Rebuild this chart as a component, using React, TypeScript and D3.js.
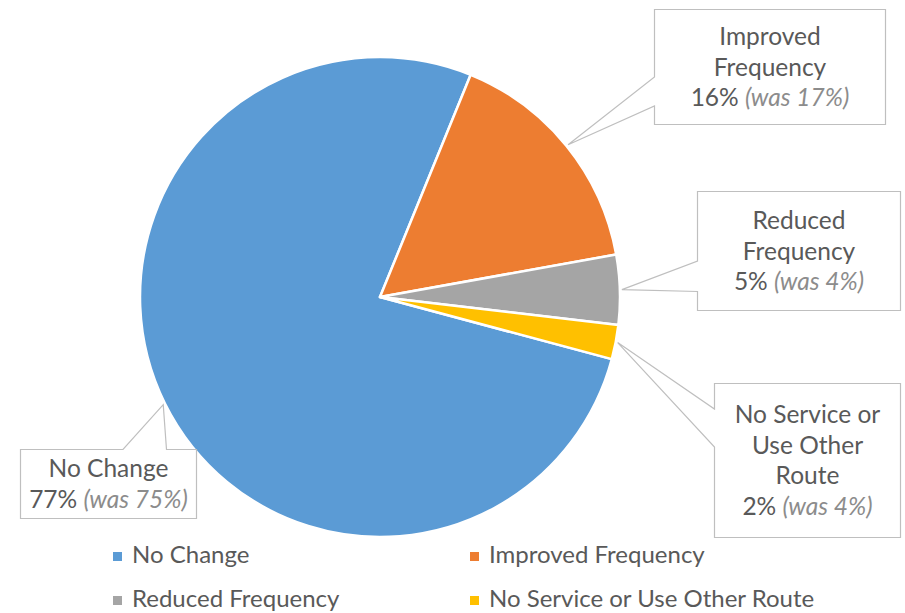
import React from 'react';
import * as d3 from 'd3';

const categories = [
  'No Change',
  'Improved Frequency',
  'Reduced Frequency',
  'No Service or Use Other Route',
];
const values = [77.0, 16.0, 4.7, 2.3];
const previous = [75, 17, 4, 4];
const labelLines = [
  ['No Change'],
  ['Improved', 'Frequency'],
  ['Reduced', 'Frequency'],
  ['No Service or', 'Use Other', 'Route'],
];
const colors = ['#5B9BD5', '#ED7D31', '#A5A5A5', '#FFC000'];

const W = 905;
const H = 613;
const cx = 380;
const cy = 297;
const radius = 240;
const firstSliceDeg = 105;
const font = 'Lato, Calibri, sans-serif';
const lineH = 30.5;

// callout boxes: rect + where the pointer leaves the box
type Box = { x: number; y: number; w: number; h: number; side: 'left' | 'top'; b1: number; b2: number };
const boxes: Box[] = [
  { x: 20.5, y: 449.5, w: 176, h: 69, side: 'top', b1: 123, b2: 166.5 },
  { x: 654.5, y: 9.5, w: 231, h: 115, side: 'left', b1: 77, b2: 106 },
  { x: 697.5, y: 191.5, w: 203, h: 119, side: 'left', b1: 261, b2: 291.5 },
  { x: 714.5, y: 383.5, w: 186, h: 154, side: 'left', b1: 409, b2: 447 },
];

const calloutPath = (b: Box, tip: [number, number]) => {
  const [tx, ty] = tip;
  if (b.side === 'top') {
    return `M${b.x},${b.y}H${b.b1}L${tx},${ty}L${b.b2},${b.y}H${b.x + b.w}V${b.y + b.h}H${b.x}Z`;
  }
  return `M${b.x},${b.y}H${b.x + b.w}V${b.y + b.h}H${b.x}V${b.b2}L${tx},${ty}L${b.x},${b.b1}Z`;
};

export default function App() {
  const start = (firstSliceDeg * Math.PI) / 180;
  const pie = d3
    .pie<number>()
    .sort(null)
    .value((d) => d)
    .startAngle(start)
    .endAngle(start + 2 * Math.PI);
  const arcs = pie(values);
  const arc = d3.arc<d3.PieArcDatum<number>>().innerRadius(0).outerRadius(radius);
  const tipArc = d3
    .arc<d3.PieArcDatum<number>>()
    .innerRadius(radius + 2)
    .outerRadius(radius + 2);

  const legendCols = [113, 470];
  const legendRows = [563, 607];

  return (
    <svg
      width={W}
      height={H}
      style={{ position: 'absolute', left: 0, top: 0, background: '#fff' }}
      fontFamily={font}
    >
      <g transform={`translate(${cx},${cy})`}>
        {arcs.map((a, i) => (
          <path key={i} d={arc(a) || ''} fill={colors[i]} stroke="#fff" strokeWidth={2.5} strokeLinejoin="round" />
        ))}
      </g>

      {arcs.map((a, i) => {
        const b = boxes[i];
        const [px, py] = tipArc.centroid(a);
        const tip: [number, number] = [px + cx, py + cy];
        const lines = [...labelLines[i]];
        const n = lines.length + 1;
        const midX = b.x + b.w / 2;
        const y0 = b.y + b.h / 2 - ((n - 1) / 2) * lineH + 8.5;
        return (
          <g key={i}>
            <path d={calloutPath(b, tip)} fill="#fff" stroke="#BFBFBF" strokeWidth={1.2} />
            <text fontSize={24.5} textAnchor="middle" fill="#595959">
              {lines.map((l, j) => (
                <tspan key={j} x={midX} y={y0 + j * lineH}>
                  {l}
                </tspan>
              ))}
              <tspan x={midX} y={y0 + lines.length * lineH}>
                {`${Math.round(values[i])}% `}
                <tspan fontStyle="italic" fill="#8C8C8C">{`(was ${previous[i]}%)`}</tspan>
              </tspan>
            </text>
          </g>
        );
      })}

      {categories.map((c, i) => {
        const x = legendCols[i % 2];
        const y = legendRows[Math.floor(i / 2)];
        return (
          <g key={c}>
            <rect x={x} y={y - 11} width={9} height={9} fill={colors[i]} />
            <text x={x + 19} y={y} fontSize={24} fill="#595959">
              {c}
            </text>
          </g>
        );
      })}
    </svg>
  );
}
